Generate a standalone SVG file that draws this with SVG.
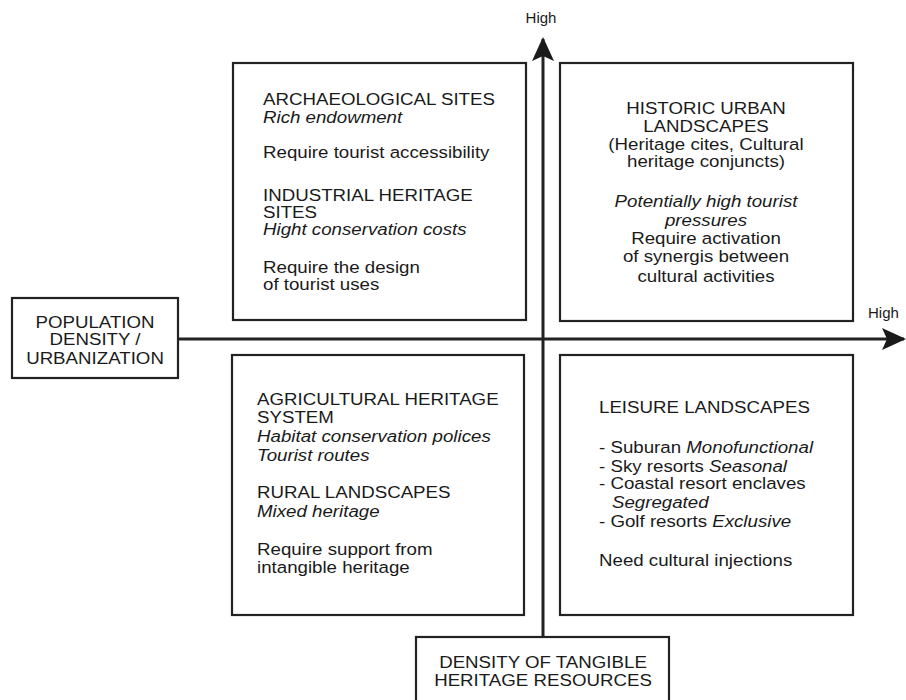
<svg xmlns="http://www.w3.org/2000/svg" width="906" height="700" viewBox="0 0 906 700">
<style>
text{font-family:"Liberation Sans",Arial,sans-serif;font-size:17px;fill:#1a1a1a}
.i{font-style:italic}
.c{text-anchor:middle}
.box{fill:#fff;stroke:#222;stroke-width:2.2}
.axis{stroke:#222;stroke-width:3;fill:none}
</style>
<defs>
<marker id="ah" viewBox="0 0 24 22" refX="22" refY="11" markerWidth="24" markerHeight="22" markerUnits="userSpaceOnUse" orient="auto">
<path d="M0,0 L24,11 L0,22 L5,11 Z" fill="#1a1a1a"/>
</marker>
</defs>
<rect width="906" height="700" fill="#fff"/>
<g id="connectors">
<line class="axis" x1="543" y1="637" x2="543" y2="39" marker-end="url(#ah)"/>
<line class="axis" x1="178" y1="339" x2="904" y2="339" marker-end="url(#ah)"/>
</g>
<g id="label-high-top"><text x="541" y="23" class="c" font-size="15" style="font-size:15px">High</text></g>
<g id="label-high-right"><text x="868" y="318" style="font-size:15px">High</text></g>
<g id="archaeological">
<rect class="box" x="233" y="63" width="293" height="257"/>
<g transform="translate(263,0) scale(1.1,1)">
<text x="0" y="105">ARCHAEOLOGICAL SITES</text>
<text x="0" y="123" class="i">Rich endowment</text>
<text x="0" y="158">Require tourist accessibility</text>
<text x="0" y="201">INDUSTRIAL HERITAGE</text>
<text x="0" y="218">SITES</text>
<text x="0" y="235" class="i">Hight conservation costs</text>
<text x="0" y="273">Require the design</text>
<text x="0" y="290">of tourist uses</text>
</g>
</g>
<g id="historic-urban">
<rect class="box" x="560" y="63" width="293" height="258"/>
<g transform="translate(706,0) scale(1.1,1)">
<text x="0" y="114" class="c">HISTORIC URBAN</text>
<text x="0" y="132" class="c">LANDSCAPES</text>
<text x="0" y="150" class="c">(Heritage cites, Cultural</text>
<text x="0" y="167" class="c">heritage conjuncts)</text>
<text x="0" y="207" class="c i">Potentially high tourist</text>
<text x="0" y="226" class="c i">pressures</text>
<text x="0" y="244" class="c">Require activation</text>
<text x="0" y="262" class="c">of synergis between</text>
<text x="0" y="282" class="c">cultural activities</text>
</g>
</g>
<g id="population">
<rect class="box" x="12" y="298" width="166" height="80"/>
<g transform="translate(95,0) scale(1.1,1)">
<text x="0" y="328" class="c">POPULATION</text>
<text x="0" y="345" class="c">DENSITY /</text>
<text x="0" y="364" class="c">URBANIZATION</text>
</g>
</g>
<g id="agricultural">
<rect class="box" x="232" y="355" width="292" height="260"/>
<g transform="translate(257,0) scale(1.1,1)">
<text x="0" y="405">AGRICULTURAL HERITAGE</text>
<text x="0" y="423">SYSTEM</text>
<text x="0" y="442" class="i">Habitat conservation polices</text>
<text x="0" y="461" class="i">Tourist routes</text>
<text x="0" y="498">RURAL LANDSCAPES</text>
<text x="0" y="517" class="i">Mixed heritage</text>
<text x="0" y="555">Require support from</text>
<text x="0" y="573">intangible heritage</text>
</g>
</g>
<g id="leisure">
<rect class="box" x="560" y="355" width="293" height="260"/>
<g transform="translate(599,0) scale(1.1,1)">
<text x="0" y="413">LEISURE LANDSCAPES</text>
<text x="0" y="453">- Suburan <tspan class="i">Monofunctional</tspan></text>
<text x="0" y="472">- Sky resorts <tspan class="i">Seasonal</tspan></text>
<text x="0" y="489">- Coastal resort enclaves</text>
<text x="11.8" y="508" class="i">Segregated</text>
<text x="0" y="527">- Golf resorts <tspan class="i">Exclusive</tspan></text>
<text x="0" y="566">Need cultural injections</text>
</g>
</g>
<g id="tangible">
<rect class="box" x="416" y="637" width="253" height="75"/>
<g transform="translate(543,0) scale(1.1,1)">
<text x="0" y="668" class="c">DENSITY OF TANGIBLE</text>
<text x="0" y="686" class="c">HERITAGE RESOURCES</text>
</g>
</g>
</svg>
